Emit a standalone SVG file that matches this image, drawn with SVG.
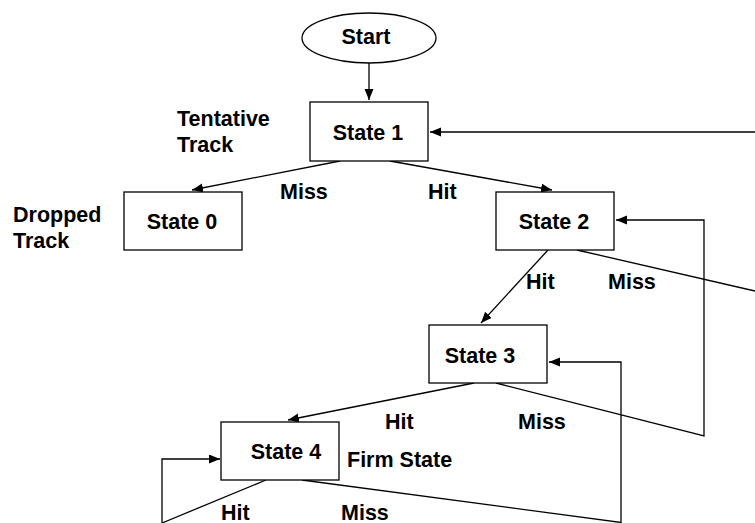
<svg xmlns="http://www.w3.org/2000/svg" width="755" height="523" viewBox="0 0 755 523">
<style>
text{font-family:"Liberation Sans",Arial,sans-serif;font-weight:bold;font-size:21.5px;fill:#000}
.box{fill:#fff;stroke:#000;stroke-width:1.3}
.c{fill:none;stroke:#000;stroke-width:1.3}
.m{text-anchor:middle}
</style>
<defs>
<marker id="ah" markerUnits="userSpaceOnUse" markerWidth="12" markerHeight="10" refX="11" refY="4.5" orient="auto">
<path d="M0,0 L11,4.5 L0,9 z" fill="#000"/>
</marker>
</defs>
<rect width="755" height="523" fill="#fff"/>
<g id="connectors">
<path class="c" d="M369,63 V100" marker-end="url(#ah)"/>
<path class="c" d="M755,132 H430" marker-end="url(#ah)"/>
<path class="c" d="M340,161 L192,190" marker-end="url(#ah)"/>
<path class="c" d="M390,161 L552,190" marker-end="url(#ah)"/>
<path class="c" d="M548,250 L481,323" marker-end="url(#ah)"/>
<path class="c" d="M577,250 L755,291"/>
<path class="c" d="M496,383 L704,436 V220 H616" marker-end="url(#ah)"/>
<path class="c" d="M474,383 L288,420" marker-end="url(#ah)"/>
<path class="c" d="M302,480 L621,522.5"/>
<path class="c" d="M621,523 V362 H549" marker-end="url(#ah)"/>
<path class="c" d="M266,480 L162,523 V459 H220" marker-end="url(#ah)"/>
</g>
<g id="start">
<ellipse class="box" cx="369" cy="38" rx="67" ry="25"/>
<text class="m" x="366" y="44">Start</text>
</g>
<g id="state1">
<rect class="box" x="310" y="102" width="118" height="59"/>
<text class="m" x="368" y="140">State 1</text>
</g>
<g id="state0">
<rect class="box" x="124" y="192" width="118" height="58"/>
<text class="m" x="182" y="229">State 0</text>
</g>
<g id="state2">
<rect class="box" x="496" y="192" width="118" height="58"/>
<text class="m" x="554" y="229">State 2</text>
</g>
<g id="state3">
<rect class="box" x="429" y="325" width="118" height="58"/>
<text class="m" x="480" y="363">State 3</text>
</g>
<g id="state4">
<rect class="box" x="221" y="422" width="118" height="58"/>
<text class="m" x="286" y="459">State 4</text>
</g>
<g id="labels">
<text x="177" y="126">Tentative</text>
<text x="177" y="152">Track</text>
<text x="13" y="222">Dropped</text>
<text x="13" y="248">Track</text>
<text x="280" y="199">Miss</text>
<text x="428" y="199">Hit</text>
<text x="526" y="289">Hit</text>
<text x="608" y="289">Miss</text>
<text x="385" y="429">Hit</text>
<text x="518" y="429">Miss</text>
<text x="347" y="467">Firm State</text>
<text x="221" y="520">Hit</text>
<text x="341" y="520">Miss</text>
</g>
</svg>
